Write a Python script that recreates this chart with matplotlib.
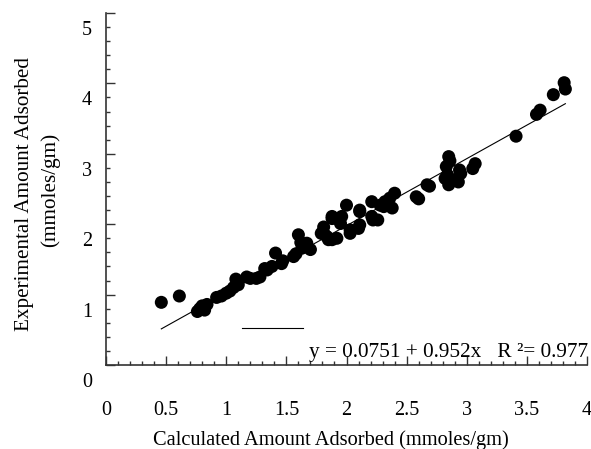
import numpy as np
import matplotlib
matplotlib.use("Agg")
import matplotlib.pyplot as plt
from matplotlib.transforms import ScaledTranslation, blended_transform_factory

plt.rcParams['font.family'] = ['Liberation Serif', 'DejaVu Serif']

# ---- data ----
calc = [0.46, 0.61,
        0.76, 0.78, 0.80, 0.82, 0.84,
        0.92, 0.96, 1.00, 1.03, 1.06, 1.08, 1.10,
        1.17, 1.20, 1.25, 1.28, 1.32, 1.34, 1.38, 1.41, 1.46, 1.47,
        1.56, 1.58, 1.60, 1.62, 1.63, 1.67, 1.70,
        1.79, 1.81, 1.82, 1.84, 1.85, 1.88, 1.88, 1.88, 1.92, 1.95, 1.96, 2.00, 2.03, 2.03, 2.10, 2.11, 2.11, 2.11,
        2.21, 2.21, 2.22, 2.26, 2.28, 2.31, 2.32, 2.36, 2.38, 2.40,
        2.58, 2.60, 2.67, 2.69,
        2.82, 2.83, 2.84, 2.85, 2.85, 2.86, 2.92, 2.93, 2.94, 2.95, 3.05, 3.07,
        3.41, 3.58, 3.61, 3.72, 3.81, 3.82]
expt = [0.89, 0.98,
        0.76, 0.80, 0.84, 0.78, 0.86,
        0.96, 0.98, 1.02, 1.05, 1.10, 1.22, 1.14,
        1.25, 1.23, 1.23, 1.25, 1.37, 1.35, 1.40, 1.59, 1.44, 1.48,
        1.54, 1.58, 1.85, 1.74, 1.66, 1.73, 1.64,
        1.87, 1.96, 1.85, 1.82, 1.78, 1.78, 2.08, 2.11, 1.80, 2.01, 2.11, 2.27, 1.87, 1.92, 1.94, 2.20, 1.99, 2.18,
        2.32, 2.11, 2.06, 2.06, 2.27, 2.25, 2.32, 2.37, 2.23, 2.44,
        2.39, 2.36, 2.56, 2.54,
        2.65, 2.82, 2.70, 2.96, 2.56, 2.90, 2.64, 2.60, 2.77, 2.72, 2.79, 2.86,
        3.25, 3.56, 3.62, 3.84, 4.01, 3.92]

intercept = 0.0751
slope = 0.952
r_squared = 0.977

stray_x = [1.13, 1.64]
stray_y = [0.53, 0.53]

x_ticks = [0, 0.5, 1, 1.5, 2, 2.5, 3, 3.5, 4]
x_tick_labels = ['0', '0.5', '1', '1.5', '2', '2.5', '3', '3.5', '4']
y_ticks = [0, 1, 2, 3, 4, 5]
y_tick_labels = ['0', '1', '2', '3', '4', '5']

# ---- figure ----
W, H = 591, 449
fig = plt.figure(figsize=(W / 100, H / 100), dpi=100)
ax = fig.add_axes([106 / W, (H - 365) / H, 481 / W, 352 / H])

ax.scatter(calc, expt, s=88, color='black', edgecolors='none', zorder=3)
xf = np.array([min(calc), max(calc)])
ax.plot(xf, intercept + slope * xf, color='black', lw=0.8, zorder=2)
ax.plot(stray_x, stray_y, color='black', lw=0.8)

ax.set_xlim(0, 4)
ax.set_ylim(0, 5)
for s in ['top', 'right']:
    ax.spines[s].set_visible(False)
spc = '#333333'
for s in ['left', 'bottom']:
    ax.spines[s].set_color(spc)
    ax.spines[s].set_linewidth(1.2)

ax.set_xticks(np.arange(0, 4.01, 0.5))
ax.set_xticks(np.arange(0, 4.01, 0.1), minor=True)
ax.set_yticks(np.arange(0, 5.01, 1))
ax.set_yticks(np.arange(0, 5.01, 0.2), minor=True)
ax.tick_params(which='major', direction='in', length=6.5, width=1.0, color=spc,
               labelbottom=False, labelleft=False)
ax.tick_params(which='minor', direction='in', length=3.2, width=1.0, color=spc)

fs = 14.5
# x tick labels
xt = blended_transform_factory(ax.transData, ax.transAxes) + ScaledTranslation(0, -0.50, fig.dpi_scale_trans)
for v, lab in zip(x_ticks, x_tick_labels):
    ax.text(v, 0, lab, transform=xt, ha='center', va='baseline', fontsize=fs, clip_on=False)
# y tick labels (offset below their ticks, as in the reference)
yt = blended_transform_factory(ax.transAxes, ax.transData) + ScaledTranslation(-0.19, -0.22, fig.dpi_scale_trans)
for v, lab in zip(y_ticks, y_tick_labels):
    ax.text(0, v, lab, transform=yt, ha='center', va='baseline', fontsize=fs, clip_on=False)

# equation
fig.text(588 / W, (H - 357) / H,
         f'y = {intercept} + {slope}x   R \u00b2= {r_squared}',
         ha='right', va='baseline', fontsize=15.3)

# axis labels
fig.text(331 / W, (H - 445) / H, 'Calculated Amount Adsorbed (mmoles/gm)',
         ha='center', va='baseline', fontsize=14.7)
fig.text(25 / W, (H - 194) / H, 'Experimental Amount Adsorbed',
         rotation=90, ha='center', va='center', fontsize=15.2)
fig.text(50 / W, (H - 190) / H, '(mmoles/gm)',
         rotation=90, ha='center', va='center', fontsize=15.2)

fig.savefig('out.png', dpi=100)
